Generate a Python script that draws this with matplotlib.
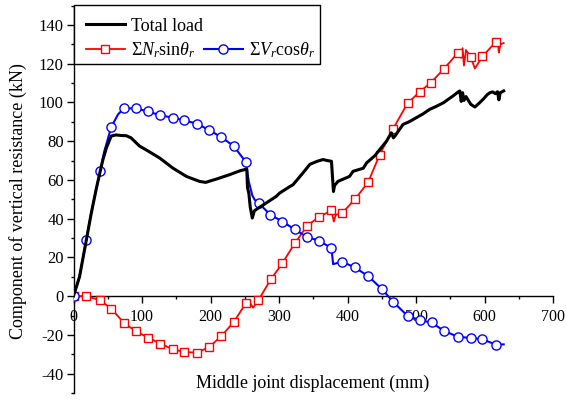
import matplotlib
matplotlib.use("Agg")
import matplotlib.pyplot as plt
from matplotlib.lines import Line2D
from matplotlib.patches import Rectangle
from matplotlib.ticker import MultipleLocator, FuncFormatter

plt.rcParams['font.family'] = ['Liberation Serif', 'DejaVu Serif']
plt.rcParams['mathtext.fontset'] = 'custom'
plt.rcParams['mathtext.rm'] = 'Liberation Serif'
plt.rcParams['mathtext.it'] = 'Liberation Serif:italic'
plt.rcParams['mathtext.bf'] = 'Liberation Serif:bold'

# ---------------- data ----------------
total_x = [0, 8.8, 18.5, 25.8, 33, 39, 43, 48, 55, 62, 69.6, 77, 84, 96.5, 106, 125.7,
           145, 164.7, 184, 193, 200, 208.5, 228, 244, 250, 253, 254, 256, 258, 261, 264,
           270, 276.7, 296, 301, 316, 320.5, 335, 345, 355, 364.3, 370, 376.6, 378, 379.5,
           381, 386, 403, 408, 423, 428, 440, 447, 457, 464, 467, 470, 481, 490, 500, 510,
           520, 530, 540, 554, 562, 564, 566, 568, 570, 573, 580, 586, 592, 598, 604, 608,
           612, 616, 619, 621, 623, 628]
total_y = [0, 10, 28.5, 42.5, 55, 64.5, 70.5, 76.5, 82.6, 83.2, 82.9, 82.8, 81.7, 77.4, 75.5,
           71.3, 66.1, 61.8, 59.2, 58.7, 59.5, 60.4, 62.7, 64.8, 65.3, 65.5, 56, 53, 46, 40.3,
           44, 45.5, 47, 51.5, 53.2, 56.6, 57.5, 63.6, 68, 69.5, 70.5, 70, 69.6, 62, 54, 57,
           59.2, 61.8, 64.4, 66, 68.8, 72.5, 75.6, 80, 84.3, 81.7, 83, 88.6, 90, 92, 94, 96.4,
           98, 99.8, 103.3, 105.5, 105.9, 100.5, 105, 101, 103, 99, 97.6, 99.5, 101.6, 104,
           105, 105.4, 104.5, 105.5, 101.3, 105, 105.9]

nsin_x = [0, 18.5, 38, 55, 73.5, 90.6, 108.6, 127, 145, 162, 180, 198, 216, 234, 251.4,
          256, 262, 270, 288, 305, 323, 341.5, 358, 376.6, 380, 383, 392, 410.6, 430, 447,
          466.6, 487.6, 505.6, 521.7, 541, 560.7, 566, 568, 570, 573, 579.6, 586, 597,
          616.7, 620, 621, 623, 628]
nsin_y = [0, 0, -2, -6.4, -13.8, -18, -21.4, -24.5, -27.5, -28.8, -29.2, -26.3, -20.6,
          -13.3, -3.8, -2.5, -6, -2, 8.6, 17, 27.3, 36.4, 40.8, 44.2, 38.5, 42, 42.8, 49.9,
          58.7, 73, 86.4, 99.5, 105.5, 110.2, 117.4, 125.4, 123, 128, 119, 127, 123.5,
          117.5, 123.7, 131.3, 129, 125.7, 130, 130.6]
nsin_marker_x = [0, 18.5, 38, 55, 73.5, 90.6, 108.6, 127, 145, 162, 180, 198, 216, 234,
                 251.4, 270, 288, 305, 323, 341.5, 358, 376.6, 392, 410.6, 430, 447, 466.6,
                 487.6, 505.6, 521.7, 541, 560.7, 579.6, 597, 616.7]
nsin_marker_y = [0, 0, -2, -6.4, -13.8, -18, -21.4, -24.5, -27.5, -28.8, -29.2, -26.3,
                 -20.6, -13.3, -3.8, -2, 8.6, 17, 27.3, 36.4, 40.8, 44.2, 42.8, 49.9, 58.7,
                 73, 86.4, 99.5, 105.5, 110.2, 117.4, 125.4, 123.5, 123.7, 131.3]

vcos_x = [0, 8.8, 18.5, 25.8, 33, 39, 45, 55, 65, 73.5, 90.6, 108.6, 127, 145, 162, 180,
          198, 216, 234, 251.4, 256, 261, 264.5, 270.4, 287.4, 305, 323, 341, 358.5, 376.6,
          379, 392, 410.6, 430, 450.6, 466.6, 487.6, 505.6, 522.7, 541, 561.6, 580, 597,
          616.7, 628]
vcos_y = [0, 10, 28.9, 42.8, 55, 64.7, 74.8, 87.2, 93.8, 96.9, 96.9, 95.3, 93.3, 92.1, 90.7,
          89, 85.7, 82, 77.4, 69.3, 59, 52, 49.7, 48, 42, 38.5, 34.4, 30.5, 28.6, 24.8, 16.5,
          17.8, 14.8, 10.4, 3.5, -2.9, -10.2, -12.4, -13.6, -18, -21, -21.6, -22.3, -25, -24.9]
vcos_marker_x = [0, 18.5, 39, 55, 73.5, 90.6, 108.6, 127, 145, 162, 180, 198, 216, 234,
                 251.4, 270.4, 287.4, 305, 323, 341, 358.5, 376.6, 392, 410.6, 430, 450.6,
                 466.6, 487.6, 505.6, 522.7, 541, 561.6, 580, 597, 616.7]
vcos_marker_y = [0, 28.9, 64.7, 87.2, 96.9, 96.9, 95.3, 93.3, 92.1, 90.7, 89, 85.7, 82,
                 77.4, 69.3, 48, 42, 38.5, 34.4, 30.5, 28.6, 24.8, 17.8, 14.8, 10.4, 3.5,
                 -2.9, -10.2, -12.4, -13.6, -18, -21, -21.6, -22.3, -25]

labels = ['Total load', r'$\Sigma N_r\mathrm{sin}\theta_r$', r'$\Sigma V_r\mathrm{cos}\theta_r$']
x_ticks = [0, 100, 200, 300, 400, 500, 600, 700]
y_ticks = [-40, -20, 0, 20, 40, 60, 80, 100, 120, 140]
xlabel = 'Middle joint displacement (mm)'
ylabel = 'Component of vertical resistance (kN)'

# ---------------- figure ----------------
W, H = 566, 403
AX_L, AX_R, AX_T, AX_B = 73.5, 553, 5.5, 393
fig = plt.figure(figsize=(W / 100, H / 100), dpi=100)
ax = fig.add_axes([AX_L / W, 1 - AX_B / H, (AX_R - AX_L) / W, (AX_B - AX_T) / H])

RED = '#ff0000'
BLUE = '#0000ff'

ax.plot(nsin_x, nsin_y, color=RED, lw=1.3, zorder=3)
ax.plot(nsin_marker_x, nsin_marker_y, ls='none', marker='s', ms=6.2, mfc='white',
        mec=RED, mew=1.0, zorder=4)
ax.plot(vcos_x, vcos_y, color=BLUE, lw=1.5, zorder=5)
ax.plot(vcos_marker_x, vcos_marker_y, ls='none', marker='o', ms=6.6, mfc='white',
        mec=BLUE, mew=1.0, zorder=6)
ax.plot(total_x, total_y, color='black', lw=2.2, zorder=7)

ax.set_xlim(0, 700)
ax.set_ylim(-50, 150)

for s in ['top', 'right']:
    ax.spines[s].set_visible(False)
ax.spines['bottom'].set_position(('data', 0))
ax.spines['left'].set_linewidth(1.0)
ax.spines['bottom'].set_linewidth(1.0)

ax.set_xticks(x_ticks)
ax.set_yticks(y_ticks)
ax.xaxis.set_minor_locator(MultipleLocator(50))
ax.yaxis.set_minor_locator(MultipleLocator(10))
fmt = FuncFormatter(lambda v, p: '%d' % v)
ax.xaxis.set_major_formatter(fmt)
ax.yaxis.set_major_formatter(fmt)
ax.tick_params(axis='both', which='major', direction='out', length=5, width=1.0)
ax.tick_params(axis='both', which='minor', direction='out', length=2.5, width=1.0)
ax.tick_params(axis='x', which='major', labelsize=11.5, pad=4)
ax.tick_params(axis='y', which='major', labelsize=12, pad=2)

fig.text(313 / W, 1 - 383 / H, xlabel, ha='center', va='center', fontsize=13)
fig.text(18 / W, 1 - 201 / H, ylabel, ha='center', va='center', rotation=90, fontsize=13)

# legend frame (pixel box 73.5..320 x 5..64)
ah = AX_B - AX_T
aw = AX_R - AX_L
box = Rectangle((0, (AX_B - 64) / ah), (320 - AX_L) / aw, (64 - 4.5) / ah,
                transform=ax.transAxes, facecolor='white', edgecolor='black',
                lw=1.0, zorder=9, clip_on=False)
ax.add_patch(box)

handles = [
    Line2D([], [], color='black', lw=2.2),
    Line2D([], [], color=RED, lw=1.3, marker='s', ms=6.2, mfc='white', mec=RED, mew=1.0),
    Line2D([], [], alpha=0),
    Line2D([], [], color=BLUE, lw=1.5, marker='o', ms=6.6, mfc='white', mec=BLUE, mew=1.0),
]
leg = ax.legend(handles, [labels[0], labels[1], '', labels[2]], ncol=2,
                loc='upper left', bbox_to_anchor=(0.012, 0.985), borderaxespad=0,
                fontsize=13, frameon=False, handlelength=2.2,
                handletextpad=0.3, columnspacing=0.05, labelspacing=0.3,
                borderpad=0.35)
leg.set_zorder(10)

fig.savefig('out.png', dpi=100)
